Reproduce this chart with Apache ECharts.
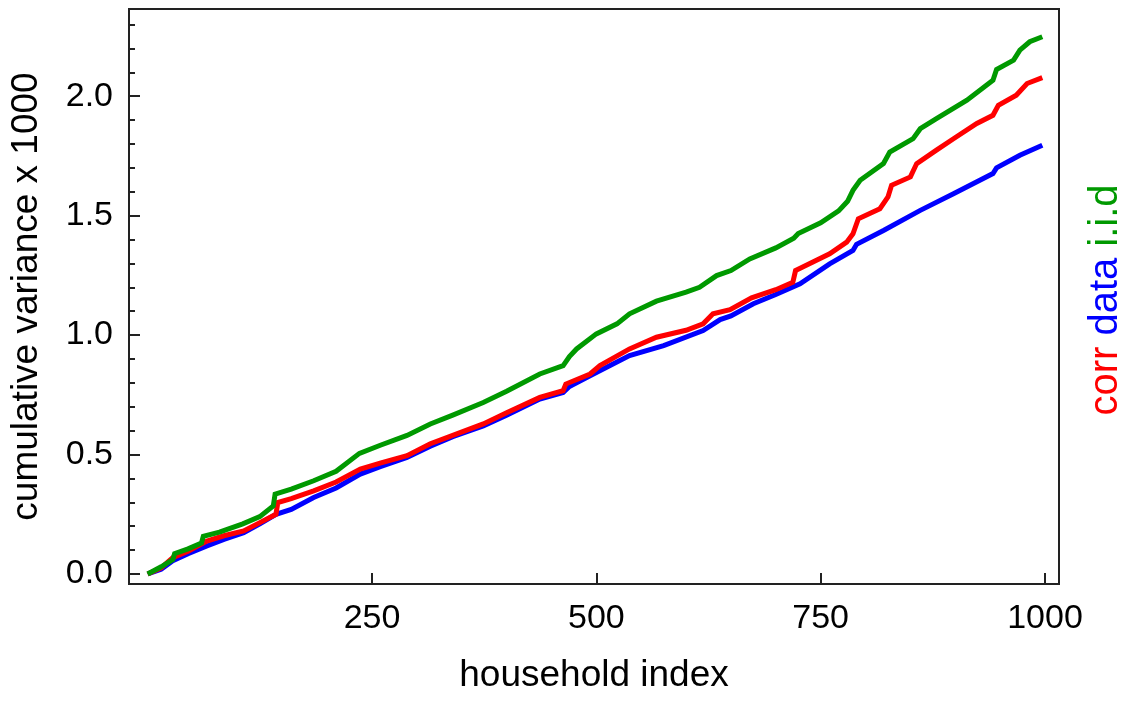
<!DOCTYPE html>
<html>
<head>
<meta charset="utf-8">
<script src="https://cdn.jsdelivr.net/npm/echarts@6/dist/echarts.min.js"></script>
<style>html,body{margin:0;padding:0;background:#fff;}#c{width:1124px;height:705px;}</style>
</head>
<body>
<div id="c"></div>
<script>
// ---- data ----
const blueX = [0,15,28,45,66,85,107,125,143,160,185,210,237,260,289,315,340,374,400,437,463,470,493,537,575,619,638,650,675,700,727,760,786,790,820,861,898,942,946,972,997];
const blueY = [0,0.02,0.055,0.085,0.117,0.145,0.173,0.21,0.25,0.27,0.32,0.36,0.418,0.45,0.488,0.535,0.575,0.62,0.665,0.732,0.76,0.785,0.83,0.914,0.956,1.019,1.065,1.08,1.131,1.17,1.215,1.298,1.354,1.38,1.438,1.522,1.592,1.676,1.70,1.753,1.795];
const redX = [0,15,28,45,66,85,107,125,143,145,160,185,210,237,260,289,315,340,374,400,437,463,466,493,504,537,567,600,619,630,649,673,700,719,722,730,760,779,786,792,816,825,829,850,857,879,898,924,942,948,968,980,997];
const redY = [0,0.025,0.068,0.095,0.138,0.16,0.18,0.215,0.25,0.299,0.315,0.348,0.385,0.439,0.465,0.495,0.545,0.58,0.628,0.675,0.739,0.767,0.795,0.837,0.872,0.942,0.991,1.02,1.047,1.089,1.106,1.156,1.19,1.221,1.27,1.285,1.34,1.389,1.424,1.487,1.529,1.578,1.627,1.662,1.718,1.774,1.822,1.886,1.92,1.962,2.004,2.053,2.078];
const greenX = [0,15,28,30,45,60,62,80,106,125,140,142,160,185,210,236,260,289,315,340,374,400,437,463,470,478,500,523,537,567,600,615,634,650,671,700,720,725,750,770,780,786,794,820,827,853,861,879,913,942,946,965,972,983,997];
const greenY = [0,0.03,0.06,0.085,0.105,0.13,0.158,0.175,0.21,0.24,0.285,0.334,0.355,0.39,0.43,0.505,0.54,0.58,0.628,0.665,0.718,0.765,0.837,0.872,0.91,0.942,1.005,1.047,1.089,1.142,1.18,1.2,1.249,1.27,1.319,1.365,1.405,1.425,1.47,1.52,1.56,1.606,1.648,1.718,1.766,1.822,1.864,1.906,1.983,2.067,2.112,2.151,2.193,2.228,2.249];
const xTicks = [250,500,750,1000];
const yTicks = [0,0.5,1.0,1.5,2.0];
const yMinorTicks = [0.1,0.2,0.3,0.4,0.6,0.7,0.8,0.9,1.1,1.2,1.3,1.4,1.6,1.7,1.8,1.9,2.1,2.2,2.3];
const xName = 'household index';
const yName = 'cumulative variance x 1000';

const zip = (xs, ys) => xs.map((x, i) => [x, ys[i]]);
const FONT = 'Liberation Sans, Arial, sans-serif';
const chart = echarts.init(document.getElementById('c'), null, {renderer: 'canvas'});
const XMIN = -20.8, XMAX = 1015.6, YMIN = -0.042, YMAX = 2.365;
const lineSeries = (name, xs, ys, color) => ({
  name, type: 'line', data: zip(xs, ys), showSymbol: false, symbol: 'none',
  lineStyle: {color, width: 5, join: 'miter'}, silent: true, animation: false
});
chart.setOption({
  animation: false,
  backgroundColor: '#fff',
  grid: {left: 129, right: 65, top: 9, bottom: 121, show: true, borderColor: '#222', borderWidth: 2, backgroundColor: 'transparent'},
  xAxis: {
    type: 'value', min: XMIN, max: XMAX,
    name: xName, nameLocation: 'middle', nameGap: 73,
    nameTextStyle: {fontFamily: FONT, fontSize: 37, color: '#000'},
    axisLine: {show: false, onZero: false},
    axisTick: {show: true, inside: true, length: 11, customValues: xTicks, lineStyle: {color: '#222', width: 2}},
    axisLabel: {customValues: xTicks, formatter: v => String(v), fontFamily: FONT, fontSize: 34, color: '#000', margin: 18},
    splitLine: {show: false}
  },
  yAxis: [{
    type: 'value', min: YMIN, max: YMAX,
    name: yName, nameLocation: 'middle', nameGap: 84,
    nameTextStyle: {fontFamily: FONT, fontSize: 37, color: '#000'},
    axisLine: {show: false, onZero: false},
    axisTick: {show: true, inside: true, length: 11, customValues: yTicks, lineStyle: {color: '#222', width: 2}},
    axisLabel: {customValues: yTicks, formatter: v => v.toFixed(1), fontFamily: FONT, fontSize: 34, color: '#000', margin: 16},
    splitLine: {show: false}
  }, {
    type: 'value', min: YMIN, max: YMAX, position: 'left',
    axisLine: {show: false, onZero: false},
    axisTick: {show: true, inside: true, length: 6, customValues: yMinorTicks, lineStyle: {color: '#222', width: 2}},
    axisLabel: {show: false},
    splitLine: {show: false}
  }],
  series: [
    lineSeries('data', blueX, blueY, '#0000ff'),
    lineSeries('corr', redX, redY, '#ff0000'),
    lineSeries('i.i.d', greenX, greenY, '#009900')
  ],
  graphic: [{
    type: 'text', x: 1106, y: 300, rotation: Math.PI / 2,
    style: {
      text: '{r|corr} {b|data} {g|i.i.d}',
      font: '40px ' + FONT,
      align: 'center', verticalAlign: 'middle',
      textAlign: 'center', textVerticalAlign: 'middle',
      rich: {
        r: {fill: '#ff0000', fontSize: 40, fontFamily: FONT},
        b: {fill: '#0000ff', fontSize: 40, fontFamily: FONT},
        g: {fill: '#009900', fontSize: 40, fontFamily: FONT}
      }
    }
  }]
});
</script>
</body>
</html>
